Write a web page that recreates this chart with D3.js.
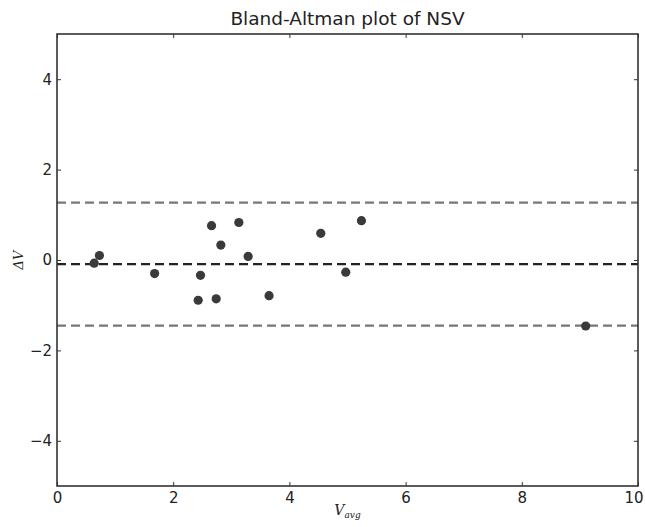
<!DOCTYPE html>
<html>
<head>
<meta charset="utf-8">
<script src="https://cdn.jsdelivr.net/npm/d3@7"></script>
<style>
  html, body { margin: 0; padding: 0; background: #fff; }
  svg { display: block; }
</style>
</head>
<body>
<div id="chart"></div>
<script>
// ---- data ----
const vAvg   = [0.64, 0.73, 1.68, 2.47, 2.43, 2.66, 2.82, 2.74, 3.13, 3.29, 3.65, 4.54, 4.97, 5.24, 9.10];
const deltaV = [-0.07, 0.10, -0.30, -0.34, -0.89, 0.76, 0.33, -0.86, 0.83, 0.08, -0.79, 0.59, -0.27, 0.87, -1.46];
const meanDiff = [-0.09];
const limits = [1.27, -1.45];
const xTicks = [0, 2, 4, 6, 8, 10];
const yTicks = [-4, -2, 0, 2, 4];
const titleText = "Bland-Altman plot of NSV";

// ---- layout ----
const W = 645, H = 527;
const margin = { top: 34, right: 7, bottom: 41, left: 57 };
const iw = W - margin.left - margin.right;
const ih = H - margin.top - margin.bottom;

const svg = d3.select("#chart").append("svg").attr("width", W).attr("height", H);
const g = svg.append("g").attr("transform", `translate(${margin.left},${margin.top})`);

const x = d3.scaleLinear().domain([0, 10]).range([0, iw]);
const y = d3.scaleLinear().domain([-5, 5]).range([ih, 0]);

const axisColor = "#333";
const tickFont = "DejaVu Sans, sans-serif";

// reference lines
g.selectAll(".limit").data(limits).enter().append("line")
  .attr("x1", 0).attr("x2", iw)
  .attr("y1", d => y(d)).attr("y2", d => y(d))
  .attr("stroke", "#777").attr("stroke-width", 2.2)
  .attr("stroke-dasharray", "9,5");

g.selectAll(".mean").data(meanDiff).enter().append("line")
  .attr("x1", 0).attr("x2", iw)
  .attr("y1", d => y(d)).attr("y2", d => y(d))
  .attr("stroke", "#222").attr("stroke-width", 2.2)
  .attr("stroke-dasharray", "9,5");

// points
g.selectAll(".pt").data(vAvg.map((v, i) => [v, deltaV[i]])).enter().append("circle")
  .attr("cx", d => x(d[0])).attr("cy", d => y(d[1]))
  .attr("r", 4.6).attr("fill", "#3a3a3a");

// axes (ticks inside, matplotlib classic)
const tl = 4;
const bottomAxis = d3.axisBottom(x).tickValues(xTicks).tickSizeInner(-tl).tickSizeOuter(0).tickPadding(6).tickFormat(d3.format("d"));
const topAxis = d3.axisTop(x).tickValues(xTicks).tickSizeInner(-tl).tickSizeOuter(0).tickFormat("");
const leftAxis = d3.axisLeft(y).tickValues(yTicks).tickSizeInner(-tl).tickSizeOuter(0).tickPadding(5)
  .tickFormat(d => d < 0 ? "\u2212" + Math.abs(d) : String(d));
const rightAxis = d3.axisRight(y).tickValues(yTicks).tickSizeInner(-tl).tickSizeOuter(0).tickFormat("");

function style(sel) {
  sel.select(".domain").remove();
  sel.selectAll(".tick line").attr("stroke", axisColor).attr("stroke-width", 1);
  sel.selectAll(".tick text").attr("fill", "#222").attr("font-family", tickFont).attr("font-size", 15);
}
const bx = g.append("g").attr("transform", `translate(0,${ih})`).call(bottomAxis).call(style);
// keep the last label inside the window, as in the reference
bx.selectAll(".tick text").filter(d => d === 10).attr("text-anchor", "end").attr("dx", 5);
g.append("g").call(topAxis).call(style);
g.append("g").call(leftAxis).call(style);
g.append("g").attr("transform", `translate(${iw},0)`).call(rightAxis).call(style);

// frame
g.append("rect").attr("x", 0).attr("y", 0).attr("width", iw).attr("height", ih)
  .attr("fill", "none").attr("stroke", axisColor).attr("stroke-width", 1.6);

// title
svg.append("text").attr("x", margin.left + iw / 2).attr("y", 25)
  .attr("text-anchor", "middle").attr("font-family", tickFont).attr("font-size", 18.5)
  .attr("fill", "#222").text(titleText);

// x label
const xl = svg.append("text").attr("x", margin.left + iw / 2).attr("y", 515)
  .attr("text-anchor", "middle").attr("font-family", "DejaVu Serif, serif")
  .attr("font-style", "italic").attr("fill", "#222").attr("font-size", 14);
xl.append("tspan").text("V");
xl.append("tspan").attr("font-size", 9).attr("dy", 3).text("avg");

// y label
svg.append("text").attr("transform", `translate(23,${margin.top + ih / 2}) rotate(-90)`)
  .attr("text-anchor", "middle").attr("font-family", "DejaVu Serif, serif")
  .attr("font-style", "italic").attr("fill", "#222").attr("font-size", 13)
  .text("\u0394V");
</script>
</body>
</html>
